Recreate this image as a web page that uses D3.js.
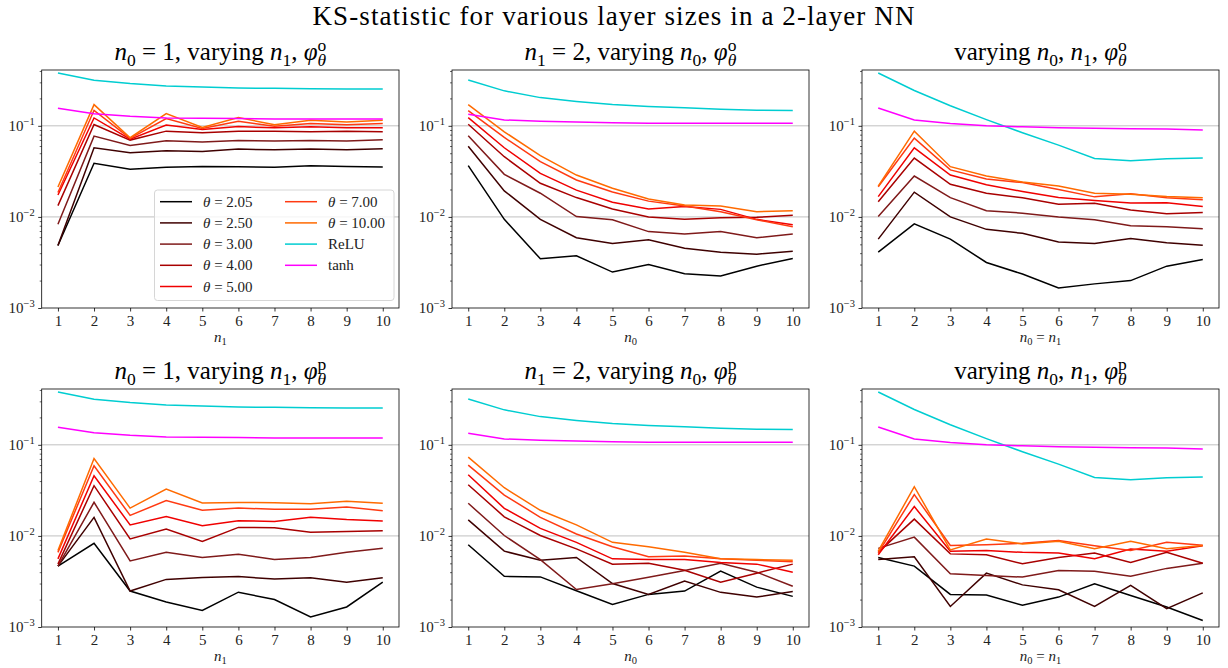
<!DOCTYPE html>
<html>
<head>
<meta charset="utf-8">
<script src="https://cdn.jsdelivr.net/npm/d3@7/dist/d3.min.js"></script>
<style>
  body { margin: 0; background: #fff; }
  svg { display: block; font-family: "Liberation Serif", "DejaVu Serif", serif; }
</style>
</head>
<body>
<svg id="chart" width="1228" height="668"></svg>
<script>
// layer sizes on the x axis
const nValues = [1, 2, 3, 4, 5, 6, 7, 8, 9, 10];
const thetaLabels = ['2.05', '2.50', '3.00', '4.00', '5.00', '7.00', '10.00'];
const yMajorTicks = [1e-3, 1e-2, 1e-1];
const yTickExp = ['\u22123', '\u22122', '\u22121'];

// phi^o, one row per theta (2.05 ... 10.00)
const oVaryN1 = [
  [0.00485, 0.0388, 0.0333, 0.035, 0.0358, 0.0355, 0.035, 0.0365, 0.0358, 0.0353],
  [0.00485, 0.0574, 0.0506, 0.0532, 0.0524, 0.0555, 0.0546, 0.0555, 0.0546, 0.056],
  [0.0083, 0.0771, 0.061, 0.0686, 0.0663, 0.069, 0.068, 0.069, 0.068, 0.0703],
  [0.0133, 0.1034, 0.0697, 0.0874, 0.0838, 0.0874, 0.087, 0.086, 0.087, 0.086],
  [0.0174, 0.122, 0.0715, 0.102, 0.0912, 0.098, 0.095, 0.0975, 0.095, 0.095],
  [0.0185, 0.148, 0.0727, 0.12, 0.0935, 0.112, 0.0992, 0.106, 0.103, 0.106],
  [0.0213, 0.171, 0.074, 0.136, 0.096, 0.123, 0.103, 0.115, 0.11, 0.115]
];
const oVaryN0 = [
  [0.0365, 0.0094, 0.00347, 0.00374, 0.00248, 0.0030, 0.00238, 0.00224, 0.00288, 0.0035],
  [0.0598, 0.0193, 0.0094, 0.0059, 0.0051, 0.0056, 0.00454, 0.0041, 0.0039, 0.0042],
  [0.0778, 0.0293, 0.0182, 0.0101, 0.0093, 0.0069, 0.0065, 0.0069, 0.0059, 0.0065],
  [0.104, 0.0458, 0.0234, 0.0163, 0.0122, 0.0100, 0.0094, 0.0098, 0.0099, 0.0104],
  [0.123, 0.0574, 0.030, 0.0197, 0.0145, 0.0122, 0.0130, 0.0121, 0.0094, 0.0082],
  [0.147, 0.0745, 0.0404, 0.0254, 0.0188, 0.0149, 0.0132, 0.0114, 0.0093, 0.0078],
  [0.171, 0.086, 0.047, 0.0288, 0.0206, 0.0157, 0.0135, 0.0132, 0.0114, 0.0117]
];
const oVaryBoth = [
  [0.0041, 0.0084, 0.0057, 0.00316, 0.00236, 0.00166, 0.00184, 0.0020, 0.00288, 0.0034],
  [0.0057, 0.0187, 0.0100, 0.0073, 0.0066, 0.0053, 0.0051, 0.0058, 0.0052, 0.0049],
  [0.0101, 0.0281, 0.0163, 0.0117, 0.0110, 0.0100, 0.0093, 0.0080, 0.0078, 0.0074],
  [0.0147, 0.0443, 0.0228, 0.0182, 0.0162, 0.0138, 0.0141, 0.0119, 0.0108, 0.0112],
  [0.0167, 0.0574, 0.0288, 0.0226, 0.0190, 0.0163, 0.0151, 0.0142, 0.0143, 0.0130],
  [0.0214, 0.0733, 0.0328, 0.0261, 0.0238, 0.0200, 0.0166, 0.0179, 0.0162, 0.0154],
  [0.0218, 0.0874, 0.0356, 0.0281, 0.0242, 0.0219, 0.0182, 0.0177, 0.0167, 0.0162]
];

// phi^p, one row per theta
const pVaryN1 = [
  [0.00466, 0.0083, 0.00248, 0.00188, 0.00152, 0.00241, 0.0020, 0.00129, 0.00166, 0.00311],
  [0.00466, 0.016, 0.00248, 0.00333, 0.0035, 0.00358, 0.00336, 0.00347, 0.0031, 0.00347],
  [0.00466, 0.0234, 0.00532, 0.00662, 0.00579, 0.0063, 0.0055, 0.00579, 0.00662, 0.00733],
  [0.0049, 0.0356, 0.00927, 0.0119, 0.0087, 0.0124, 0.0123, 0.0110, 0.0112, 0.0114],
  [0.0056, 0.0457, 0.0132, 0.0163, 0.0129, 0.0147, 0.0144, 0.016, 0.0151, 0.0146],
  [0.0066, 0.0589, 0.0168, 0.0244, 0.0191, 0.0202, 0.0196, 0.0196, 0.0208, 0.0189],
  [0.0069, 0.0708, 0.0202, 0.0327, 0.023, 0.0233, 0.0231, 0.0225, 0.0240, 0.0228]
];
const pVaryN0 = [
  [0.0080, 0.0036, 0.00355, 0.0025, 0.00177, 0.00228, 0.00248, 0.0041, 0.00274, 0.00217],
  [0.0150, 0.0068, 0.0054, 0.0058, 0.0030, 0.00228, 0.0032, 0.0024, 0.00213, 0.00246],
  [0.0228, 0.0101, 0.0055, 0.00258, 0.00298, 0.00352, 0.00417, 0.0050, 0.0040, 0.0028],
  [0.0365, 0.0162, 0.0101, 0.0072, 0.0049, 0.0050, 0.0042, 0.0031, 0.0039, 0.0049],
  [0.047, 0.0201, 0.0121, 0.0085, 0.0056, 0.0055, 0.0055, 0.0051, 0.0049, 0.0040],
  [0.0598, 0.0281, 0.0160, 0.0105, 0.0076, 0.0059, 0.0060, 0.0056, 0.0054, 0.0052],
  [0.0733, 0.0338, 0.0191, 0.0132, 0.0085, 0.0076, 0.0066, 0.0056, 0.0055, 0.0054]
];
const pVaryBoth = [
  [0.0058, 0.00466, 0.00228, 0.00225, 0.00173, 0.00213, 0.00298, 0.00222, 0.00166, 0.00118],
  [0.0055, 0.0059, 0.00168, 0.0039, 0.0029, 0.00256, 0.00168, 0.00286, 0.00159, 0.00237],
  [0.0073, 0.0097, 0.00384, 0.00368, 0.00353, 0.00418, 0.0041, 0.0036, 0.0044, 0.0050],
  [0.0066, 0.0153, 0.00635, 0.0062, 0.00494, 0.0058, 0.0065, 0.0051, 0.0066, 0.0050],
  [0.0062, 0.021, 0.0068, 0.0069, 0.0066, 0.0065, 0.0056, 0.0072, 0.0068, 0.0078],
  [0.0065, 0.0284, 0.00784, 0.0080, 0.0083, 0.0089, 0.0078, 0.0069, 0.0085, 0.0079],
  [0.0068, 0.0347, 0.00703, 0.00927, 0.00817, 0.00874, 0.00721, 0.00874, 0.00721, 0.00784]
];

// reference activations (same for both rows)
const reluVaryN1 = [0.38, 0.316, 0.291, 0.274, 0.267, 0.26, 0.258, 0.256, 0.254, 0.254];
const reluVaryN0 = [0.319, 0.242, 0.204, 0.185, 0.171, 0.163, 0.158, 0.152, 0.148, 0.147];
const reluVaryBoth = [0.38, 0.244, 0.166, 0.117, 0.084, 0.0614, 0.0438, 0.0414, 0.0435, 0.0443];
const tanhVaryN1 = [0.156, 0.136, 0.127, 0.122, 0.121, 0.12, 0.119, 0.119, 0.119, 0.119];
const tanhVaryN0 = [0.134, 0.116, 0.112, 0.11, 0.108, 0.107, 0.107, 0.107, 0.107, 0.107];
const tanhVaryBoth = [0.157, 0.116, 0.106, 0.1, 0.0975, 0.095, 0.094, 0.093, 0.092, 0.0897];

const thetaColors = ['#000000', '#3f0000', '#7f1a1a', '#a80000', '#f00000', '#ff3a12', '#ff6a00'];
const reluColor = '#00cdd1';
const tanhColor = '#ff00ff';

const svg = d3.select('#chart');
const cols = [{ l: 41.7, r: 399 }, { l: 452, r: 809 }, { l: 862, r: 1219 }];
const rows = [{ t: 70, b: 308 }, { t: 389, b: 627 }];

// rich text with italic / sub / sup pieces
function rich(text, segs, fs) {
  text.attr('font-size', fs);
  let cur = 0;
  let prev = null;
  segs.forEach(sg => {
    const sz = sg.s ? fs * 0.7 : fs;
    const off = sg.s === 'sub' ? fs * 0.22 : (sg.s === 'sup' ? -fs * 0.38 : 0);
    const ts = text.append('tspan').text(sg.t).attr('font-size', sz);
    if (off - cur !== 0) ts.attr('dy', off - cur);
    if (sg.i) ts.attr('font-style', 'italic');
    if (sg.over && prev) ts.attr('dx', -prev.node().getComputedTextLength());
    cur = off;
    prev = ts;
  });
}

const phi = v => [{ t: '\u03c6', i: true }, { t: '\u03b8', i: true, s: 'sub' }, { t: v, s: 'sup', over: true }];
const nSub = k => [{ t: 'n', i: true }, { t: k, s: 'sub' }];

const titleSegs = [
  v => [...nSub('0'), { t: ' = 1, varying ' }, ...nSub('1'), { t: ', ' }, ...phi(v)],
  v => [...nSub('1'), { t: ' = 2, varying ' }, ...nSub('0'), { t: ', ' }, ...phi(v)],
  v => [{ t: 'varying ' }, ...nSub('0'), { t: ', ' }, ...nSub('1'), { t: ', ' }, ...phi(v)]
];
const xLabelSegs = [nSub('1'), nSub('0'), [...nSub('0'), { t: ' = ' }, ...nSub('1')]];

const panels = [
  { row: 0, col: 0, theta: oVaryN1, relu: reluVaryN1, tanh: tanhVaryN1, sup: 'o', legend: true },
  { row: 0, col: 1, theta: oVaryN0, relu: reluVaryN0, tanh: tanhVaryN0, sup: 'o' },
  { row: 0, col: 2, theta: oVaryBoth, relu: reluVaryBoth, tanh: tanhVaryBoth, sup: 'o' },
  { row: 1, col: 0, theta: pVaryN1, relu: reluVaryN1, tanh: tanhVaryN1, sup: 'p' },
  { row: 1, col: 1, theta: pVaryN0, relu: reluVaryN0, tanh: tanhVaryN0, sup: 'p' },
  { row: 1, col: 2, theta: pVaryBoth, relu: reluVaryBoth, tanh: tanhVaryBoth, sup: 'p' }
];

// suptitle
svg.append('text')
  .attr('x', 614).attr('y', 25)
  .attr('text-anchor', 'middle')
  .attr('font-size', 27)
  .attr('letter-spacing', 1.1)
  .text('KS-statistic for various layer sizes in a 2-layer NN');

panels.forEach(p => {
  const c = cols[p.col], r = rows[p.row];
  const x = d3.scaleLinear().domain([0.55, 10.45]).range([c.l, c.r]);
  const y = d3.scaleLog().domain([1e-3, 0.41]).range([r.b, r.t]);
  const g = svg.append('g');

  // grid
  g.selectAll('.grid').data(yMajorTicks.slice(1)).enter().append('line')
    .attr('x1', c.l).attr('x2', c.r)
    .attr('y1', d => y(d)).attr('y2', d => y(d))
    .attr('stroke', '#b0b0b0').attr('stroke-width', 0.8);

  // minor y ticks
  const minor = [];
  [1e-3, 1e-2, 1e-1].forEach(d => { for (let k = 2; k <= 9; k++) if (k * d <= 0.41) minor.push(k * d); });
  g.append('g').attr('transform', `translate(${c.l},0)`)
    .call(d3.axisLeft(y).tickValues(minor).tickSize(2).tickFormat(''))
    .call(a => a.select('.domain').remove())
    .selectAll('line').attr('stroke-width', 0.6);
  g.append('g').attr('transform', `translate(${c.l},0)`)
    .call(d3.axisLeft(y).tickValues(yMajorTicks).tickSize(3.5).tickFormat(''))
    .call(a => a.select('.domain').remove())
    .selectAll('line').attr('stroke-width', 0.8);
  yMajorTicks.forEach((v, i) => {
    const t = g.append('text').attr('x', c.l - 7).attr('y', y(v) + 5)
      .attr('text-anchor', 'end').attr('fill', '#222');
    rich(t, [{ t: '10' }, { t: yTickExp[i], s: 'sup' }], 15);
  });

  // x axis
  g.append('g').attr('transform', `translate(0,${r.b})`)
    .call(d3.axisBottom(x).tickValues(nValues).tickSize(3.5).tickPadding(3.5))
    .call(a => a.select('.domain').remove())
    .call(a => a.selectAll('line').attr('stroke-width', 0.8))
    .call(a => a.selectAll('text').attr('font-size', 15).attr('font-family', 'Liberation Serif').attr('fill', '#222'));

  const xl = g.append('text').attr('x', (c.l + c.r) / 2).attr('y', r.b + 34)
    .attr('text-anchor', 'middle').attr('fill', '#222');
  rich(xl, xLabelSegs[p.col], 15);

  // lines
  const line = d3.line().x((d, i) => x(nValues[i])).y(d => y(d));
  p.theta.forEach((s, k) => {
    g.append('path').datum(s).attr('d', line).attr('fill', 'none')
      .attr('stroke', thetaColors[k]).attr('stroke-width', 1.5);
  });
  g.append('path').datum(p.relu).attr('d', line).attr('fill', 'none')
    .attr('stroke', reluColor).attr('stroke-width', 1.5);
  g.append('path').datum(p.tanh).attr('d', line).attr('fill', 'none')
    .attr('stroke', tanhColor).attr('stroke-width', 1.5);

  // frame
  g.append('rect').attr('x', c.l).attr('y', r.t)
    .attr('width', c.r - c.l).attr('height', r.b - r.t)
    .attr('fill', 'none').attr('stroke', '#000').attr('stroke-width', 0.8);

  // title
  const tt = g.append('text').attr('x', (c.l + c.r) / 2).attr('y', r.t - 10)
    .attr('text-anchor', 'middle');
  rich(tt, titleSegs[p.col](p.sup), 25);

  if (p.legend) {
    const lg = g.append('g');
    lg.append('rect').attr('x', 154.5).attr('y', 190).attr('width', 239.5).attr('height', 110.5)
      .attr('rx', 3).attr('fill', '#fff').attr('fill-opacity', 0.8)
      .attr('stroke', '#d6d6d6').attr('stroke-width', 1);
    const entries = thetaLabels.map((t, k) => ({ label: t, color: thetaColors[k], theta: true }))
      .concat([{ label: 'ReLU', color: reluColor }, { label: 'tanh', color: tanhColor }]);
    entries.forEach((e, k) => {
      const colI = k < 5 ? 0 : 1, rowI = k < 5 ? k : k - 5;
      const lx = colI === 0 ? 160 : 285, ly = 201.7 + rowI * 21.2;
      lg.append('line').attr('x1', lx).attr('x2', lx + 32).attr('y1', ly).attr('y2', ly)
        .attr('stroke', e.color).attr('stroke-width', 1.5);
      const t = lg.append('text').attr('x', lx + 43).attr('y', ly + 5).attr('fill', '#222');
      if (e.theta) rich(t, [{ t: '\u03b8', i: true }, { t: ' = ' + e.label }], 15);
      else t.attr('font-size', 15).text(e.label);
    });
  }
});
</script>
</body>
</html>
